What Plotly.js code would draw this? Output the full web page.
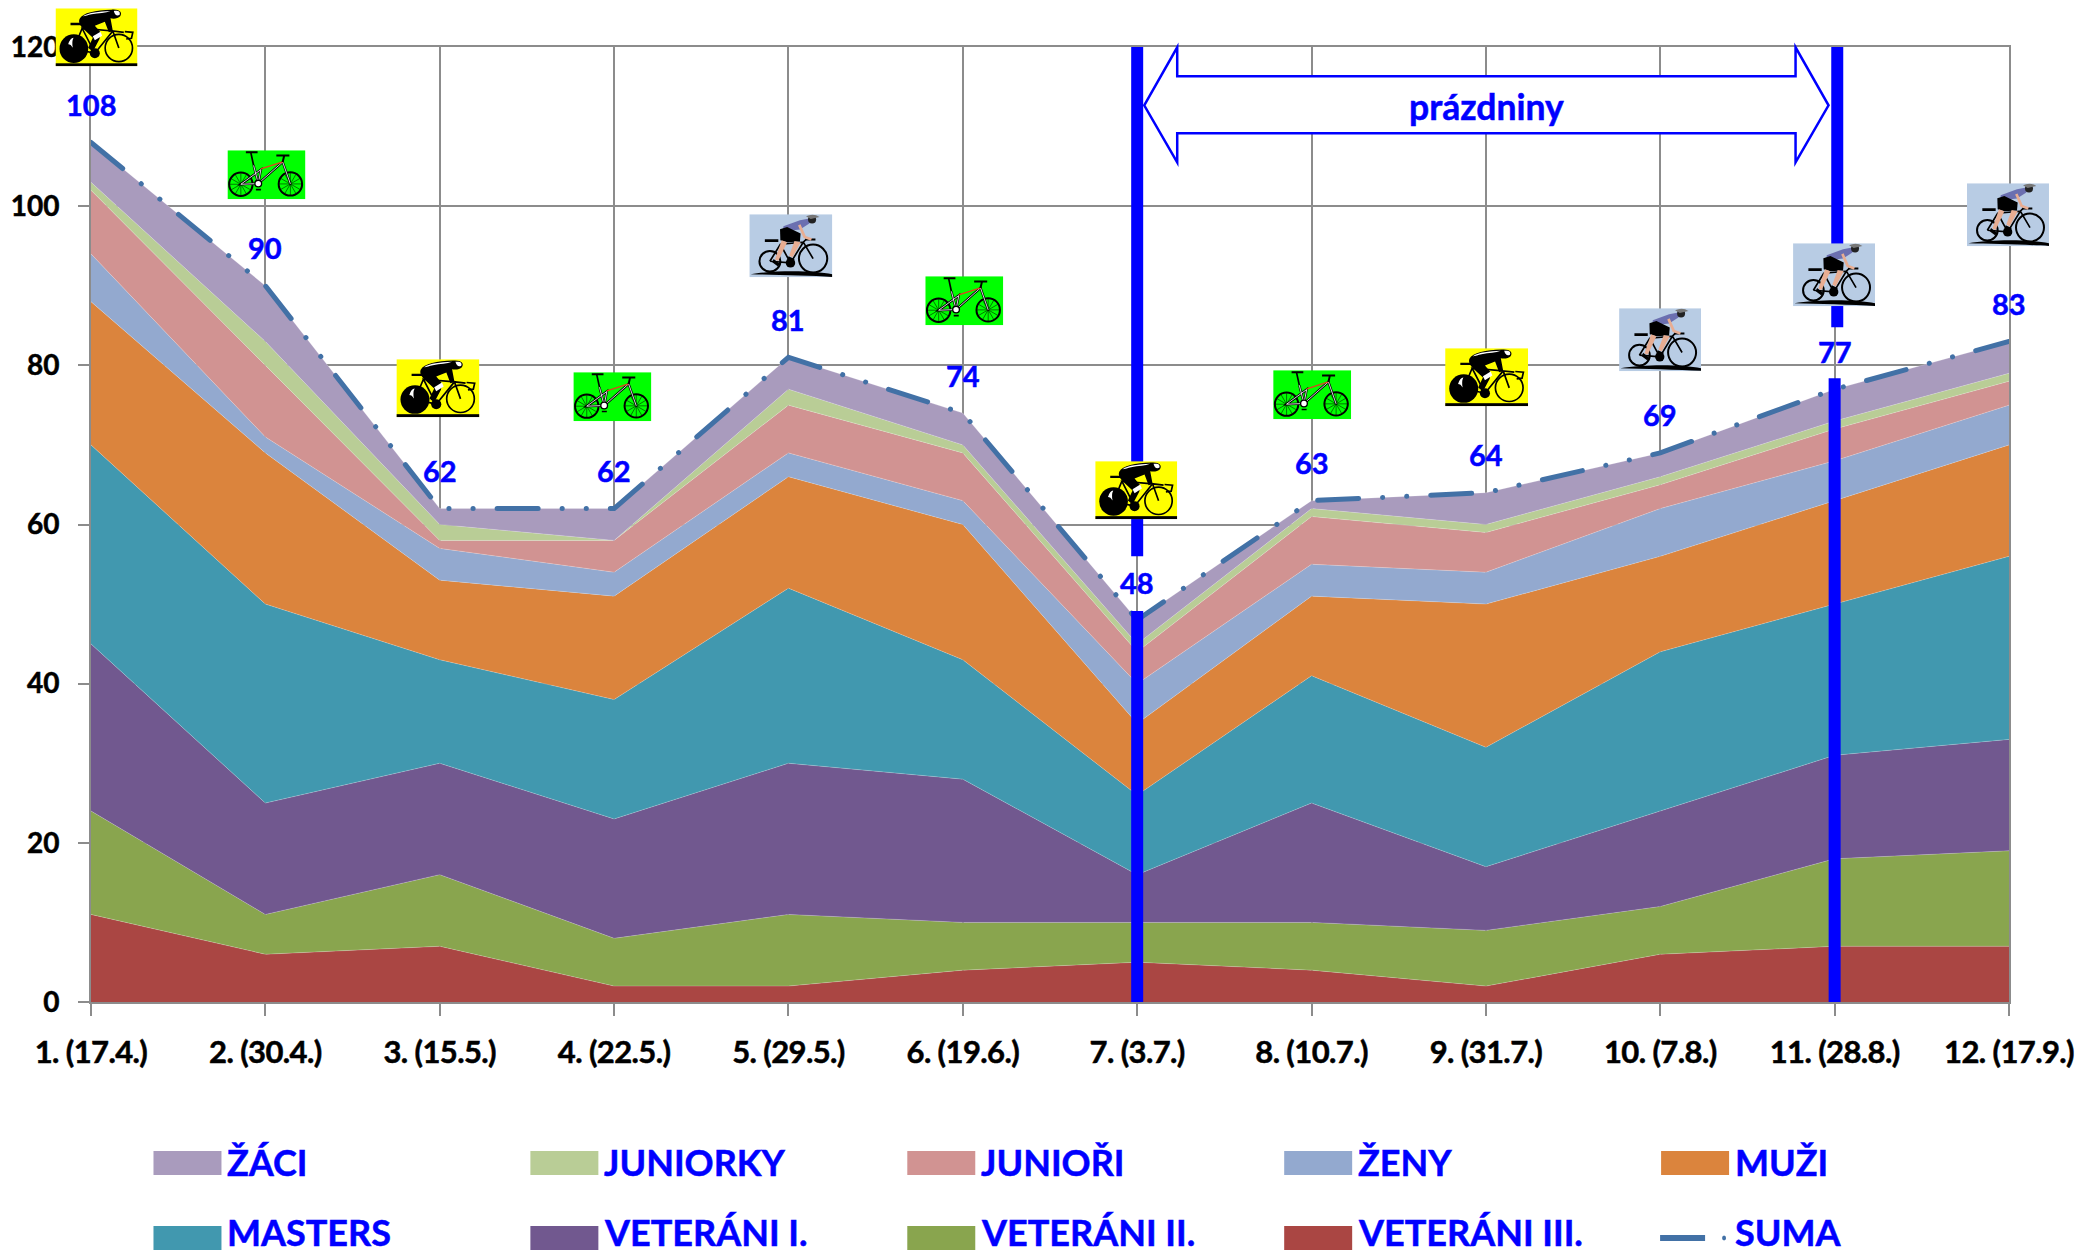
<!DOCTYPE html>
<html>
<head>
<meta charset="utf-8">
<script src="https://cdn.plot.ly/plotly-3.0.1.min.js"></script>
<style>
html,body{margin:0;padding:0;background:#fff}
#chart{width:2080px;height:1255px}
.xtick text{letter-spacing:-0.6px;stroke:#000;stroke-width:.5px}
.ytick text{stroke:#000;stroke-width:.5px}
.annotation-text{stroke:#0000ff;stroke-width:.5px}
</style>
</head>
<body>
<div id="chart"></div>
<script>
// ---------- data ----------
const categories = ["1. (17.4.)","2. (30.4.)","3. (15.5.)","4. (22.5.)","5. (29.5.)","6. (19.6.)","7. (3.7.)","8. (10.7.)","9. (31.7.)","10. (7.8.)","11. (28.8.)","12. (17.9.)"];
const veteraniIII = [11,6,7,2,2,4,5,4,2,6,7,7];
const veteraniII  = [13,5,9,6,9,6,5,6,7,6,11,12];
const veteraniI   = [21,14,14,15,19,18,6,15,8,12,13,14];
const masters     = [25,25,13,15,22,15,10,16,15,20,19,23];
const muzi        = [18,19,10,13,14,17,9,10,18,12,13,14];
const zeny        = [6,2,4,3,3,3,5,4,4,6,5,5];
const juniori     = [8,9,1,4,6,6,4,6,5,3,4,3];
const juniorky    = [1,3,2,0,2,1,1,1,1,1,1,1];
const zaci        = [5,7,2,4,4,4,3,1,4,3,4,4];
const suma        = [108,90,62,62,81,74,48,63,64,69,77,83];
const iconKinds   = ["y","g","y","g","b","g","y","g","y","b","b","b"];

// ---------- frame ----------
const W=2080,H=1255, L=90.5,R=2009,T=46.7,B=1002;
const px=x=>(x-L)/(R-L), py=y=>(B-y)/(B-T);
const BLUE="#0000ff", GRID="#8c8c8c", FONT="Lato, 'Open Sans', sans-serif";

// ---------- icons (decorative pictures) ----------
function svgUri(w,h,body){
  const s=`<svg xmlns="http://www.w3.org/2000/svg" width="${w*4}" height="${h*4}" viewBox="0 0 ${w} ${h}">${body}</svg>`;
  return "data:image/svg+xml;base64,"+btoa(s);
}
function spokes(cx,cy,r,n){let d="";for(let i=0;i<n;i++){const a=i*Math.PI*2/n;
  d+=`M${cx} ${cy}L${(cx+r*Math.cos(a)).toFixed(1)} ${(cy+r*Math.sin(a)).toFixed(1)}`;}return d;}
const iconYellow=svgUri(246,174,`<rect width="246" height="174" fill="#ffff00"/>
<rect y="165" width="246" height="9" fill="#000"/>
<circle cx="55" cy="121" r="43" fill="#000"/>
<path d="M38 108 Q44 88 54 88 Q48 100 52 118 Q44 106 38 108Z" fill="#fff"/>
<circle cx="190" cy="119" r="41" fill="none" stroke="#000" stroke-width="5"/>
<path d="M190 119L172 68L205 72M172 68L80 60L118 135L172 68M80 60L55 121L118 135" fill="none" stroke="#000" stroke-width="5"/>
<circle cx="118" cy="135" r="15" fill="#000"/>
<path d="M45 47H78" stroke="#000" stroke-width="7"/>
<path d="M208 70 L232 72 L228 90 L212 92" fill="none" stroke="#000" stroke-width="5"/>
<path d="M72 32 C82 12 120 6 168 4 C192 2 202 12 194 24 C188 32 172 32 165 30 L172 68 L160 72 L148 40 L118 52 L135 72 L132 92 L112 130 L98 118 L112 88 L84 62 C74 52 68 42 72 32Z" fill="#000"/>
<path d="M82 24 C100 12 130 10 165 8 C150 14 130 14 108 18 C98 20 90 24 82 24Z" fill="#fff"/>
<path d="M112 84L135 70L140 82L118 96Z" fill="#fff"/>
<path d="M175 8C188 6 196 10 192 20C184 24 178 20 175 8Z" fill="#fff"/>`);
const frameG="M92 100L165 35L188 101M78 45L92 100L40 102L100 58L92 100";
const iconGreen=svgUri(233,147,`<rect width="233" height="147" fill="#00ff00"/>
<circle cx="40" cy="102" r="35" fill="none" stroke="#000" stroke-width="6"/>
<circle cx="188" cy="101" r="35" fill="none" stroke="#000" stroke-width="6"/>
<path d="${spokes(40,102,33,12)}${spokes(188,101,33,12)}" stroke="#000" stroke-width="1.6"/>
<path d="${frameG}" fill="none" stroke="#000" stroke-width="7"/>
<path d="${frameG}" fill="none" stroke="#fff" stroke-width="2.5"/>
<path d="M100 56L165 35" stroke="#e04020" stroke-width="4"/>
<path d="M78 45L70 8" stroke="#000" stroke-width="5"/>
<path d="M55 6H90" stroke="#000" stroke-width="6"/>
<path d="M165 35L170 14M146 16H185" stroke="#000" stroke-width="6"/>
<circle cx="92" cy="100" r="10" fill="#fff" stroke="#000" stroke-width="4"/>
<path d="M85 118H100" stroke="#000" stroke-width="5"/>`);
const iconBlue=svgUri(246,189,`<rect width="246" height="189" fill="#b8cce4"/>
<path d="M4 180 C70 168 190 168 246 180 V188 C180 184 70 182 4 180Z" fill="#000"/>
<circle cx="61" cy="141" r="31" fill="none" stroke="#000" stroke-width="6"/>
<circle cx="189" cy="133" r="42" fill="none" stroke="#000" stroke-width="6"/>
<path d="M61 141L92 90L160 84L122 146L61 141M92 90L122 146M189 133L160 84L172 72" fill="none" stroke="#000" stroke-width="5"/>
<path d="M46 79H86" stroke="#000" stroke-width="8"/>
<path d="M166 76H196" stroke="#000" stroke-width="6"/>
<circle cx="122" cy="146" r="14" fill="#000"/>
<path d="M101 36L150 18L182 12L178 28L150 46L100 52Z" fill="#6b6fb0"/>
<path d="M91 45L112 38L152 58L150 82L112 84L92 78Z" fill="#000"/>
<path d="M96 78L112 84L86 140L76 136Z" fill="#e8ad92"/>
<path d="M134 80L152 84L128 130L118 124Z" fill="#e8ad92"/>
<path d="M72 134L92 150L84 156L68 144ZM116 126L134 134L126 150L112 140Z" fill="#000"/>
<path d="M148 32L164 68L184 76" fill="none" stroke="#e8ad92" stroke-width="8"/>
<circle cx="186" cy="16" r="12" fill="#222"/>
<path d="M168 6Q190 -4 208 8L182 14Z" fill="#777"/>`);
const iconSrc={y:iconYellow,g:iconGreen,b:iconBlue};
// pixel boxes of the pictures: left, top, right, bottom
const iconBoxes=[[55,8,137,66],[227,150,305,199],[396,359,479,417],[573,372,651,421],[749,214,832,277],[925,276,1003,325],
 [1095,461,1177,519],[1273,370,1351,419],[1445,348,1528,406],[1619,308,1701,371],[1793,243,1875,306],[1967,183,2049,246]];
const images=iconKinds.map((k,i)=>{const b=iconBoxes[i];return{
  source:iconSrc[k],xref:"paper",yref:"paper",x:px(b[0]),y:py(b[1]),sizex:(b[2]-b[0])/(R-L),sizey:(b[3]-b[1])/(B-T),
  xanchor:"left",yanchor:"top",sizing:"stretch",layer:"above"};});

// ---------- traces ----------
const xs=categories;
const stack=[
 ["VETERÁNI III.",veteraniIII,"#aa4643"],
 ["VETERÁNI II.",veteraniII,"#89a54e"],
 ["VETERÁNI I.",veteraniI,"#71588f"],
 ["MASTERS",masters,"#4198af"],
 ["MUŽI",muzi,"#db843d"],
 ["ŽENY",zeny,"#93a9cf"],
 ["JUNIOŘI",juniori,"#d19392"],
 ["JUNIORKY",juniorky,"#b9cd96"],
 ["ŽÁCI",zaci,"#a99bbd"]
];
const traces=stack.map(s=>({type:"scatter",mode:"lines",name:s[0],x:xs,y:s[1],stackgroup:"a",
  fillcolor:s[2],line:{width:0.6,color:"rgba(255,255,255,0.35)"},hoverinfo:"name+y"}));
traces.push({type:"scatter",mode:"lines",name:"SUMA",x:xs,y:suma,cliponaxis:false,
  line:{color:"#4271a6",width:5,dash:"41px,24px,0.1px,24px,0.1px,24px"},hoverinfo:"name+y"});
// holiday boundary lines (7th and 11th race)
const bar=(x,y0,y1,w)=>({type:"scatter",mode:"lines",x:[x,x],y:[y0,y1],xaxis:"x2",cliponaxis:false,showlegend:false,hoverinfo:"skip",
  line:{color:BLUE,width:w}});
const yv=p=>(B-p)/(B-T)*120;
traces.push(bar(6,0,yv(611),12),bar(6,yv(556),yv(43),12),bar(10,0,yv(378),12),bar(10.015,yv(327),yv(46),12));

// ---------- legend drawn as swatches and real text ----------
const legendRows=[
 [["ŽÁCI","#a99bbd"],["JUNIORKY","#b9cd96"],["JUNIOŘI","#d19392"],["ŽENY","#93a9cf"],["MUŽI","#db843d"]],
 [["MASTERS","#4198af"],["VETERÁNI I.","#71588f"],["VETERÁNI II.","#89a54e"],["VETERÁNI III.","#aa4643"],["SUMA",null]]
];
const shapes=[],annotations=[];
legendRows.forEach((row,r)=>row.forEach((it,c)=>{
  const x0=153+c*377, yc=1163+r*75;
  if(it[1]) shapes.push({type:"rect",xref:"paper",yref:"paper",x0:px(x0),x1:px(x0+68),y0:py(yc-12),y1:py(yc+12),fillcolor:it[1],line:{width:0}});
  else {
    shapes.push({type:"line",xref:"paper",yref:"paper",x0:px(x0-1),x1:px(x0+44),y0:py(yc),y1:py(yc),line:{color:"#4271a6",width:6}});
    shapes.push({type:"circle",xref:"paper",yref:"paper",x0:px(x0+61),x1:px(x0+65),y0:py(yc-2.5),y1:py(yc+2.5),fillcolor:"#4271a6",line:{width:0}});
  }
  annotations.push({xref:"paper",yref:"paper",x:px(x0+72),y:py(yc-1-r*5),xanchor:"left",yanchor:"middle",showarrow:false,
    text:"<b>"+it[0]+"</b>",font:{family:FONT,size:36,color:BLUE}});
}));
// holiday arrow
const ax=v=>px(v), ay=v=>py(v);
shapes.push({type:"path",xref:"paper",yref:"paper",layer:"above",fillcolor:"#fff",line:{color:BLUE,width:2.5},
 path:`M${ax(1144)},${ay(105)}L${ax(1177)},${ay(47)}L${ax(1177)},${ay(76)}L${ax(1795.5)},${ay(76)}L${ax(1795.5)},${ay(47)}L${ax(1828.5)},${ay(105)}L${ax(1795.5)},${ay(162)}L${ax(1795.5)},${ay(133)}L${ax(1177)},${ay(133)}L${ax(1177)},${ay(162)}Z`});
annotations.push({xref:"paper",yref:"paper",x:px(1486),y:py(106),xanchor:"center",yanchor:"middle",showarrow:false,
  text:"<b>prázdniny</b>",font:{family:FONT,size:35.5,color:BLUE}});
// value labels above the total line
suma.forEach((v,i)=>annotations.push({x:categories[i],y:v,xref:"x",yref:"y",yshift:38,xanchor:"center",yanchor:"middle",showarrow:false,
  text:"<b>"+v+"</b>",font:{family:FONT,size:29,color:BLUE}}));

const layout={
 width:W,height:H,paper_bgcolor:"#fff",plot_bgcolor:"#fff",showlegend:false,hovermode:false,
 margin:{l:L,r:W-R,t:T,b:H-B,pad:0},
 xaxis:{type:"category",categories:categories,range:[0,11],showgrid:true,gridcolor:GRID,gridwidth:2,showline:true,mirror:true,linecolor:GRID,linewidth:2,
   ticks:"outside",ticklen:12,tickwidth:2,tickcolor:GRID,ticklabelstandoff:10,tickangle:0,
   tickfont:{family:FONT,size:31,color:"#000",weight:700},zeroline:false,automargin:false},
 xaxis2:{type:"linear",range:[0,11],overlaying:"x",visible:false},
 yaxis:{range:[0,120],tick0:0,dtick:20,showgrid:true,gridcolor:GRID,gridwidth:2,showline:true,mirror:true,linecolor:GRID,linewidth:2,
   ticks:"outside",ticklen:11,tickwidth:2,tickcolor:GRID,ticklabelstandoff:13,
   tickfont:{family:FONT,size:28,color:"#000",weight:700},zeroline:false,automargin:false},
 shapes:shapes,annotations:annotations,images:images
};
Plotly.newPlot("chart",traces,layout,{displayModeBar:false,staticPlot:true}).then(()=>{
  document.querySelectorAll(".scatterlayer .trace").forEach(t=>{const l=t.querySelector(".js-line");
    if(l && l.style.strokeDasharray) l.style.strokeLinecap="round";});
});
</script>
</body>
</html>
